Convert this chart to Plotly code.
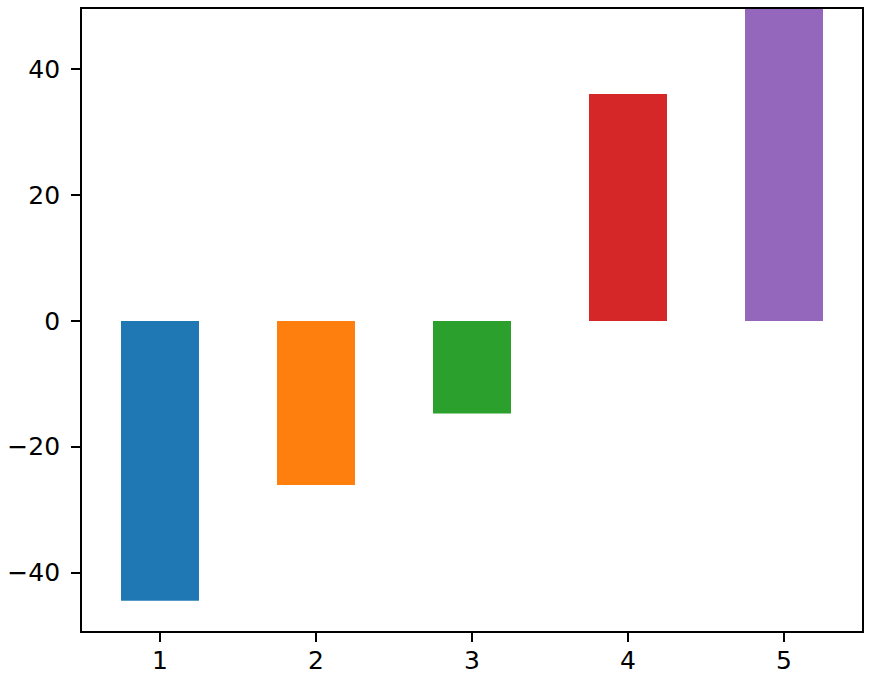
import plotly.graph_objects as go

categories = [1, 2, 3, 4, 5]
values = [-44.5, -26.1, -14.7, 36.1, 52.0]
colors = ["#1f77b4", "#ff7f0e", "#2ca02c", "#d62728", "#9467bd"]
y_tickvals = [-40, -20, 0, 20, 40]
y_ticktext = ["\u221240", "\u221220", "0", "20", "40"]

fig = go.Figure(go.Bar(x=categories, y=values, marker_color=colors,
                       marker_line_width=0, width=0.5))

axis_common = dict(showline=True, linecolor="black", linewidth=1.8, mirror=True,
                   ticks="outside", ticklen=9, tickwidth=1.6, tickcolor="black",
                   showgrid=False, zeroline=False, automargin=False,
                   tickfont=dict(family="DejaVu Sans", size=25, color="black"))

fig.update_layout(
    template="none",
    width=870, height=681,
    margin=dict(l=82, r=8, t=9, b=50, pad=0),
    plot_bgcolor="white", paper_bgcolor="white",
    showlegend=False,
    xaxis=dict(range=[0.5, 5.5], tickvals=categories, ticklabelstandoff=-3, **axis_common),
    yaxis=dict(range=[-49.3, 49.6], tickvals=y_tickvals, ticktext=y_ticktext,
               ticklabelstandoff=6, **axis_common),
)

# remove the page's default 8px body margin so the figure fills the window exactly
fig.write_html("out.html",
               config={"displayModeBar": False},
               post_script="document.body.style.margin='0';document.body.style.overflow='hidden';")
